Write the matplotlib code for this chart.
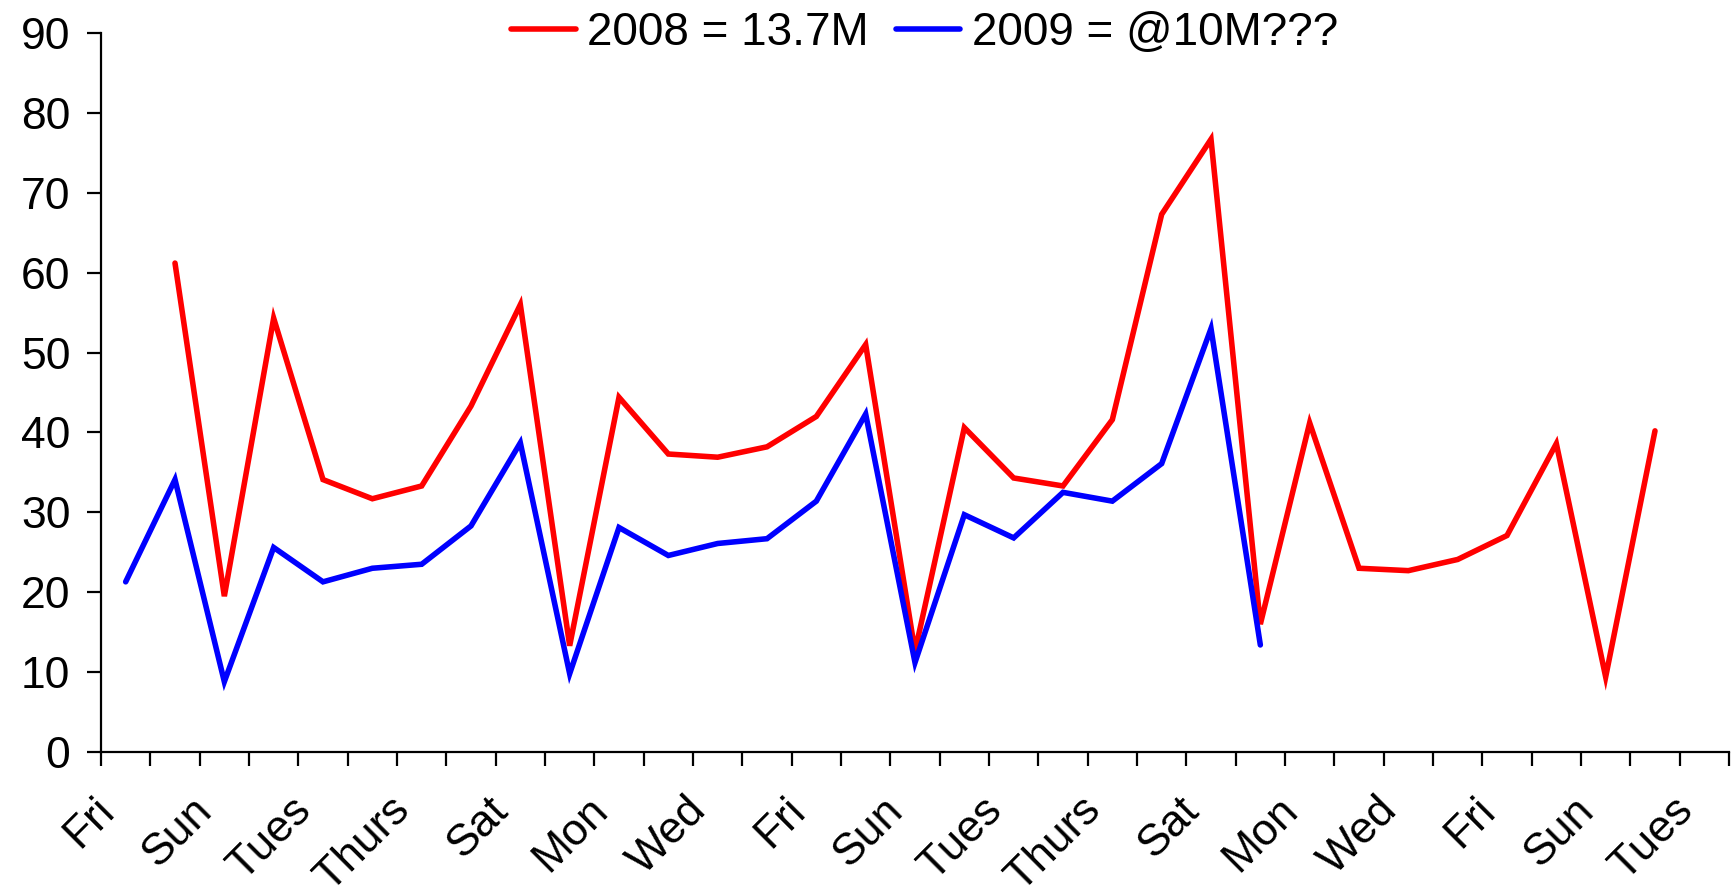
import numpy as np
import matplotlib
matplotlib.use("Agg")
import matplotlib.pyplot as plt
from matplotlib.transforms import ScaledTranslation

plt.rcParams['font.family'] = ['Liberation Sans', 'DejaVu Sans']

# days (33 categories, every other one labelled)
week = ['Fri', 'Sat', 'Sun', 'Mon', 'Tues', 'Wed', 'Thurs']
days = [week[i % 7] for i in range(33)]

# 2008 series starts on the second day
red_2008 = [None, 61.2, 19.5, 54.3, 34.1, 31.7, 33.3, 43.3, 56.0, 13.3,
            44.4, 37.3, 36.9, 38.2, 42.0, 51.0, 12.6, 40.6, 34.3, 33.3,
            41.6, 67.3, 76.7, 16.0, 41.2, 23.0, 22.7, 24.1, 27.1, 38.6,
            9.4, 40.2]
blue_2009 = [21.3, 34.1, 8.8, 25.6, 21.3, 23.0, 23.5, 28.3, 38.7, 9.8,
             28.1, 24.6, 26.1, 26.7, 31.4, 42.3, 11.2, 29.7, 26.8, 32.5,
             31.4, 36.1, 53.0, 13.4]

red = np.array([np.nan if v is None else v for v in red_2008])
blue = np.array(blue_2009)

fig = plt.figure(figsize=(17.32, 8.90), dpi=100)
ax = fig.add_axes([101 / 1732, 1 - 752 / 890, (1729 - 101) / 1732, (752 - 33) / 890])

ax.plot(np.arange(len(red)), red, color='#ff0000', lw=4, label='2008 = 13.7M',
        solid_capstyle='round', solid_joinstyle='miter')
ax.plot(np.arange(len(blue)), blue, color='#0000ff', lw=4, label='2009 = @10M???',
        solid_capstyle='round', solid_joinstyle='miter')

ax.set_xlim(-0.5, len(days) - 0.5)
ax.set_ylim(0, 90)
ax.set_yticks(np.arange(0, 91, 10))

ax.set_xticks(np.arange(-0.5, len(days), 1.0))
ax.set_xticklabels([])
ax.set_xticks(np.arange(0, len(days), 2), minor=True)
ax.set_xticklabels(days[::2], minor=True, rotation=45, ha='right', va='top')
ax.tick_params(axis='x', which='minor', length=0, pad=27, labelsize=32)
ax.tick_params(axis='x', which='major', length=10, width=1.6, direction='out')
ax.tick_params(axis='y', length=10, width=1.6, direction='out', labelsize=32, pad=12)

shift = ScaledTranslation(-0.035, 0, fig.dpi_scale_trans)
for lab in ax.get_xticklabels(minor=True):
    lab.set_transform(lab.get_transform() + shift)

for s in ['top', 'right']:
    ax.spines[s].set_visible(False)
for s in ['left', 'bottom']:
    ax.spines[s].set_linewidth(1.6)

ax.legend(loc='center', bbox_to_anchor=(0.506, 1.0), ncol=2, frameon=False,
          fontsize=33, handlelength=1.4, handletextpad=0.25, columnspacing=0.6)

fig.savefig('out.png', dpi=100)
